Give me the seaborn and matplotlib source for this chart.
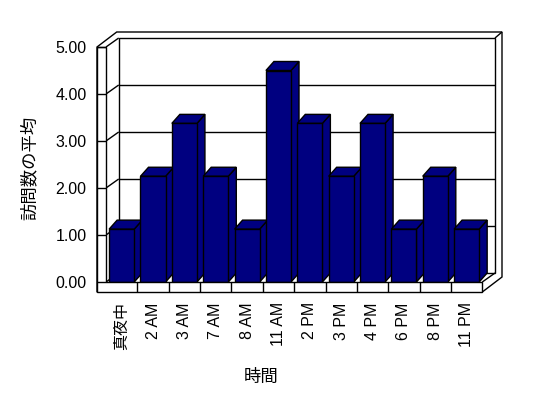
import matplotlib
matplotlib.use("Agg")
import matplotlib.pyplot as plt
import seaborn as sns
import pandas as pd
from matplotlib.transforms import IdentityTransform
from matplotlib.patches import Polygon
from matplotlib.lines import Line2D

categories = ["真夜中", "2 AM", "3 AM", "7 AM", "8 AM", "11 AM",
              "2 PM", "3 PM", "4 PM", "6 PM", "8 PM", "11 PM"]
values = [1.125, 2.25, 3.375, 2.25, 1.125, 4.5,
          3.375, 2.25, 3.375, 1.125, 2.25, 1.125]
y_ticks = [0, 1, 2, 3, 4, 5]
y_tick_labels = ["0.00", "1.00", "2.00", "3.00", "4.00", "5.00"]
x_title = "時間"
y_title = "訪問数の平均"

BAR_COLOR = "#000080"

sns.set_theme(style="white")
plt.rcParams['font.family'] = ['Liberation Sans', 'Noto Sans CJK JP', 'DejaVu Sans']
plt.rcParams['text.color'] = 'black'
plt.rcParams['xtick.color'] = 'black'
plt.rcParams['ytick.color'] = 'black'
plt.rcParams['axes.labelcolor'] = 'black'

DPI = 100
W, H = 548, 398
fig = plt.figure(figsize=(W / DPI, H / DPI), dpi=DPI)
fig.patch.set_facecolor("white")
ax = fig.add_axes([106 / W, (H - 282) / H, 376.3 / W, 235 / H])
ax.patch.set_visible(False)

df = pd.DataFrame({"時間": categories, "平均": values})
sns.barplot(data=df, x="時間", y="平均", color=BAR_COLOR, saturation=1,
            width=0.8, edgecolor="black", linewidth=1, ax=ax, zorder=3)
bars = list(ax.patches)

n = len(categories)
ax.set_xlim(-0.5, n - 0.5)
ax.set_ylim(y_ticks[0], y_ticks[-1])
for s in ax.spines.values():
    s.set_visible(False)

ax.set_yticks(y_ticks)
ax.set_yticklabels(y_tick_labels, fontsize=11.5)
ax.tick_params(axis="y", length=0, pad=14.0)
ax.set_xticks(range(n))
ax.set_xticklabels(categories, rotation=90, fontsize=11.5)
ax.tick_params(axis="x", length=0, pad=14.5)
ax.set_xlabel(x_title, fontsize=12.5)
ax.set_ylabel(y_title, fontsize=12.5)
ax.xaxis.label.set_va("center")
ax.yaxis.label.set_va("center")
ax.xaxis.set_label_coords((261 - 106) / 376.3, (282 - 377) / 235)
ax.yaxis.set_label_coords((29 - 106) / 376.3, (282 - 168) / 235)
ax.grid(False)

# geometry (pixels)
DX, DY = 12.7, 9.0      # back wall inner depth
OX, OY = 19.7, 15.0     # outer depth
LW = 9.0                # left wall thickness
FT = 10.0               # floor thickness
BDX, BDY = 8.0, 9.0     # bar depth

x0, x1 = -0.5, n - 0.5
y0, y1 = y_ticks[0], y_ticks[-1]
ID = IdentityTransform()


def P(x, y, dx=0.0, dy=0.0):
    px, py = ax.transData.transform((x, y))
    return (px + dx, py + dy)


def line(pts, z=5, lw=1.0):
    xs = [p[0] for p in pts]
    ys = [p[1] for p in pts]
    ax.add_line(Line2D(xs, ys, transform=ID, color="black", lw=lw,
                       zorder=z, clip_on=False, solid_capstyle="butt"))


def poly(pts, fc, z, lw=1.0, ec="black"):
    ax.add_patch(Polygon(pts, closed=True, transform=ID, facecolor=fc,
                         edgecolor=ec, lw=lw, zorder=z, clip_on=False))


# back wall slab (outer outline filled white)
poly([P(x0, y1, -LW, 0), P(x0, y1, -LW + OX, OY), P(x1, y1, OX, OY),
      P(x1, y0, OX, -FT + OY), P(x1, y0, 0, -FT), P(x0, y0, -LW, -FT)],
     "white", 0.3)
# back wall inner face
poly([P(x0, y0, DX, DY), P(x0, y1, DX, DY), P(x1, y1, DX, DY), P(x1, y0, DX, DY)],
     "white", 0.5)
# right edge of slab
line([P(x1, y1, DX, DY), P(x1, y1, OX, OY)], z=0.6)
line([P(x1, y0, DX, DY), P(x1, y0, 0, 0)], z=0.6)
# left wall top inner diagonal
line([P(x0, y1), P(x0, y1, DX, DY)], z=0.6)
line([P(x0, y0), P(x0, y0, DX, DY)], z=0.6)

# gridlines on back wall and left wall inner face
for v in y_ticks[1:-1]:
    line([P(x0, v, DX, DY), P(x1, v, DX, DY)], z=1)
    line([P(x0, v), P(x0, v, DX, DY)], z=1)

# bars: side and top faces derived from seaborn's bars
for b in bars:
    bx, by = b.get_x(), b.get_y()
    bw, bh = b.get_width(), b.get_height()
    fl = P(bx, by + bh)
    fr = P(bx + bw, by + bh)
    br = P(bx + bw, by)
    top = [fl, fr, (fr[0] + BDX, fr[1] + BDY), (fl[0] + BDX, fl[1] + BDY)]
    side = [br, fr, (fr[0] + BDX, fr[1] + BDY), (br[0] + BDX, br[1] + BDY)]
    poly(side, BAR_COLOR, 2)
    poly(top, BAR_COLOR, 2)

# front faces: left wall front + floor front
poly([P(x0, y0, -LW, -FT), P(x0, y1, -LW, 0), P(x0, y1), P(x0, y0),
      P(x1, y0), P(x1, y0, 0, -FT)], "white", 4)
# tick marks across left wall front face
for v in y_ticks:
    line([P(x0, v, -LW, 0), P(x0, v)], z=4.5)
# category separators on floor front
for i in range(n - 1):
    line([P(i + 0.5, y0), P(i + 0.5, y0, 0, -FT)], z=4.5)

fig.savefig("out.png", dpi=DPI, facecolor="white")
